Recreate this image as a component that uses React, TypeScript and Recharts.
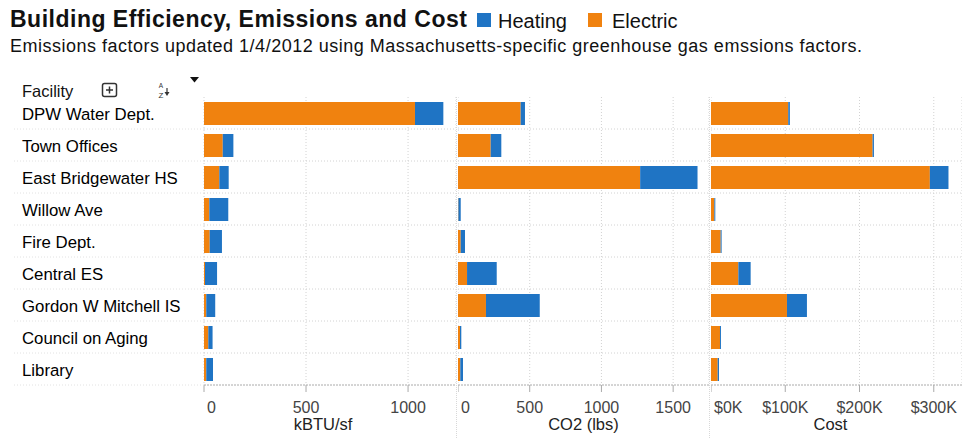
import { BarChart, Bar, XAxis, YAxis, CartesianGrid } from 'recharts'

const facilities = [
  'DPW Water Dept.',
  'Town Offices',
  'East Bridgewater HS',
  'Willow Ave',
  'Fire Dept.',
  'Central ES',
  'Gordon W Mitchell IS',
  'Council on Aging',
  'Library',
]

const kbtuElectric = [1034, 92, 75, 26, 28, 5, 11, 21, 11]
const kbtuHeating = [139, 52, 46, 93, 60, 59, 44, 21, 33]

const co2Electric = [437, 228, 1270, 3, 19, 63, 195, 14, 16]
const co2Heating = [30, 74, 400, 16, 30, 207, 375, 9, 19]

const costElectric = [104000, 217600, 294700, 4500, 13000, 36800, 102300, 12100, 9000]
const costHeating = [2200, 1800, 25100, 1300, 1300, 16600, 26900, 1300, 1800]

const kbtuTicks = [0, 500, 1000]
const co2Ticks = [0, 500, 1000, 1500]
const costTicks = [0, 100000, 200000, 300000]

const ORANGE = '#f0820f'
const BLUE = '#1f74c4'
const FONT = "'Liberation Sans', Arial, sans-serif"

const toRows = (electric: number[], heating: number[]) =>
  facilities.map((facility, i) => ({ facility, electric: electric[i], heating: heating[i] }))

function ValueTick({ x, y, payload, fmt }: any) {
  const first = payload.value === 0
  return (
    <text
      x={first ? x + 3 : x}
      y={y}
      dy={19}
      textAnchor={first ? 'start' : 'middle'}
      fill="#444"
      fontSize={16}
      fontFamily={FONT}
    >
      {fmt(payload.value)}
    </text>
  )
}

function RowLabel({ y, payload }: any) {
  return (
    <g>
      <text x={22} y={y} dy={7} fill="#000" fontSize={16.8} fontFamily={FONT} textAnchor="start">
        {payload.value}
      </text>
      <line x1={14} x2={204} y1={y + 16} y2={y + 16} stroke="#e2e2e2" strokeDasharray="1 2" />
    </g>
  )
}

interface PanelProps {
  data: Array<{ facility: string; electric: number; heating: number }>
  ticks: number[]
  max: number
  title: string
  left: number
  width: number
  labels?: boolean
  titleDx?: number
  fmt?: (v: number) => string
}

function Panel({ data, ticks, max, title, left, width, labels = false, titleDx = 0, fmt = (v) => String(v) }: PanelProps) {
  return (
    <div style={{ position: 'absolute', left, top: 0 }}>
      <BarChart
        layout="vertical"
        width={width}
        height={438}
        data={data}
        margin={{ top: 97, right: 0, bottom: 0, left: 0 }}
        barSize={23}
      >
        <CartesianGrid
          stroke="#d2d2d2"
          strokeDasharray="1 2"
          horizontalCoordinatesGenerator={({ offset }: any) =>
            data.slice(1).map((_, i) => offset.top + ((i + 1) * offset.height) / data.length)
          }
        />
        <XAxis
          type="number"
          domain={[0, max]}
          ticks={ticks}
          interval={0}
          height={53}
          tickSize={7}
          tickLine={{ stroke: '#aaa' }}
          axisLine={{ stroke: '#aaa', strokeDasharray: '2 1' }}
          tick={<ValueTick fmt={fmt} />}
          label={{ value: title, position: 'insideBottom', offset: 8, dx: titleDx, fill: '#222', fontSize: 16.5, fontFamily: FONT }}
        />
        <YAxis
          type="category"
          dataKey="facility"
          hide={!labels}
          width={204}
          axisLine={false}
          tickLine={false}
          interval={0}
          tick={<RowLabel />}
        />
        <Bar dataKey="electric" stackId="s" fill={ORANGE} isAnimationActive={false} />
        <Bar dataKey="heating" stackId="s" fill={BLUE} isAnimationActive={false} />
      </BarChart>
    </div>
  )
}

export default function App() {
  return (
    <div style={{ position: 'relative', width: 962, height: 438, background: '#fff', fontFamily: FONT, overflow: 'hidden' }}>
      <style>{'body{margin:0}'}</style>

      <div style={{ position: 'absolute', left: 10, top: 8, fontSize: 23, lineHeight: '23px', fontWeight: 700, letterSpacing: 0.5, color: '#111', whiteSpace: 'nowrap' }}>
        Building Efficiency, Emissions and Cost
      </div>
      <div style={{ position: 'absolute', left: 477, top: 13, width: 14, height: 14, background: BLUE }} />
      <div style={{ position: 'absolute', left: 498, top: 11, fontSize: 20, lineHeight: '20px', color: '#111' }}>Heating</div>
      <div style={{ position: 'absolute', left: 588, top: 13, width: 14, height: 14, background: ORANGE }} />
      <div style={{ position: 'absolute', left: 612, top: 11, fontSize: 20, lineHeight: '20px', color: '#111' }}>Electric</div>
      <div style={{ position: 'absolute', left: 10, top: 37, fontSize: 18, lineHeight: '18px', letterSpacing: 0.5, color: '#111', whiteSpace: 'nowrap' }}>
        Emissions factors updated 1/4/2012 using Massachusetts-specific greenhouse gas emssions factors.
      </div>

      <div style={{ position: 'absolute', left: 22, top: 83, fontSize: 16.5, lineHeight: '16.5px', color: '#111' }}>Facility</div>
      <svg style={{ position: 'absolute', left: 100, top: 74 }} width={110} height={27}>
        <rect x={2.5} y={9.5} width={14} height={13} rx={2} fill="none" stroke="#333" strokeWidth={1.5} />
        <line x1={9.5} x2={9.5} y1={12.5} y2={19.5} stroke="#333" strokeWidth={1.5} />
        <line x1={6} x2={13} y1={16} y2={16} stroke="#333" strokeWidth={1.5} />
        <text x={61} y={14} fontSize={6.5} fill="#333" fontFamily={FONT} textAnchor="middle">A</text>
        <text x={61} y={24} fontSize={8} fill="#333" fontFamily={FONT} textAnchor="middle">Z</text>
        <line x1={67} x2={67} y1={14} y2={20} stroke="#333" strokeWidth={1.2} />
        <polygon points="64.5,18 69.5,18 67,22" fill="#333" />
        <polygon points="90,3 99,3 94.5,8.5" fill="#111" />
      </svg>

      <Panel data={toRows(kbtuElectric, kbtuHeating)} ticks={kbtuTicks} max={1235} title="kBTU/sf" left={0} width={456} labels titleDx={-7} />
      <Panel data={toRows(co2Electric, co2Heating)} ticks={co2Ticks} max={1750} title="CO2 (lbs)" left={458} width={251} />
      <Panel
        data={toRows(costElectric, costHeating)}
        ticks={costTicks}
        max={338000}
        title="Cost"
        left={711}
        width={251}
        titleDx={-6}
        fmt={(v) => `$${v / 1000}K`}
      />

      <div style={{ position: 'absolute', left: 456, top: 97, width: 0, height: 341, borderLeft: '1px dotted #d8d8d8' }} />
      <div style={{ position: 'absolute', left: 709, top: 97, width: 0, height: 341, borderLeft: '1px dotted #d8d8d8' }} />
    </div>
  )
}
